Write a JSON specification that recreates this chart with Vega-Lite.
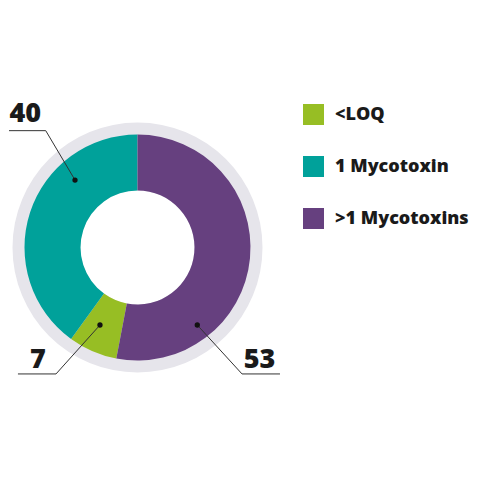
{
  "$schema": "https://vega.github.io/schema/vega-lite/v6.json",
  "width": 480,
  "height": 480,
  "autosize": {"type": "fit", "contains": "padding"},
  "padding": 0,
  "background": "white",
  "config": {"view": {"stroke": null}},
  "datasets": {
    "slices": [
      {"category": "<LOQ", "value": 7},
      {"category": "1 Mycotoxin", "value": 40},
      {"category": ">1 Mycotoxins", "value": 53}
    ],
    "ring": [{"part": "ring", "value": 100}],
    "leaders": [
      {"label": "40", "step": 1, "x": -113.7, "y": 103.4},
      {"label": "40", "step": 2, "x": -81.2, "y": 103.4},
      {"label": "40", "step": 3, "x": -55.3, "y": 59.7},
      {"label": "7", "step": 1, "x": -105.8, "y": -111.9},
      {"label": "7", "step": 2, "x": -72.1, "y": -111.9},
      {"label": "7", "step": 3, "x": -33.2, "y": -68.6},
      {"label": "53", "step": 1, "x": 126.1, "y": -111.9},
      {"label": "53", "step": 2, "x": 92.5, "y": -111.9},
      {"label": "53", "step": 3, "x": 52.9, "y": -68.6}
    ],
    "labels": [
      {"label": "40", "x": -99.3, "y": 110.8},
      {"label": "7", "x": -88.1, "y": -106.9},
      {"label": "53", "x": 108, "y": -106.4}
    ]
  },
  "encoding": {
    "x": {"type": "quantitative", "scale": {"domain": [-121.68, 303.1], "nice": false, "zero": false}, "axis": null},
    "y": {"type": "quantitative", "scale": {"domain": [-205.75, 219.03], "nice": false, "zero": false}, "axis": null}
  },
  "layer": [
    {
      "data": {"name": "ring"},
      "mark": {"type": "arc", "radius": 125, "radius2": 57, "color": "#E6E5EB"},
      "encoding": {
        "theta": {"field": "value", "type": "quantitative"},
        "x": {"datum": 0, "type": "quantitative"},
        "y": {"datum": 0, "type": "quantitative"}
      }
    },
    {
      "data": {"name": "slices"},
      "mark": {"type": "arc", "radius": 113, "radius2": 57},
      "encoding": {
        "theta": {"field": "value", "type": "quantitative", "stack": true},
        "order": {"field": "category", "sort": "descending"},
        "x": {"datum": 0, "type": "quantitative"},
        "y": {"datum": 0, "type": "quantitative"},
        "color": {
          "field": "category",
          "type": "nominal",
          "scale": {
            "domain": ["<LOQ", "1 Mycotoxin", ">1 Mycotoxins"],
            "range": ["#97BE24", "#00A19A", "#66407F"]
          },
          "legend": {
            "title": null,
            "orient": "none",
            "legendX": 303,
            "legendY": 104,
            "symbolType": "square",
            "symbolSize": 441,
            "symbolStrokeWidth": 0,
            "symbolOpacity": 1,
            "labelFont": "Open Sans",
            "labelFontWeight": 800,
            "labelFontSize": 18,
            "labelColor": "#1a1a1a",
            "labelOffset": 11,
            "rowPadding": 31,
            "padding": 0
          }
        }
      }
    },
    {
      "data": {"name": "leaders"},
      "mark": {"type": "line", "color": "#333333", "strokeWidth": 1},
      "encoding": {
        "x": {"field": "x", "type": "quantitative"},
        "y": {"field": "y", "type": "quantitative"},
        "detail": {"field": "label"},
        "order": {"field": "step", "type": "quantitative"}
      }
    },
    {
      "data": {"name": "leaders"},
      "transform": [{"filter": "datum.step == 3"}],
      "mark": {"type": "point", "filled": true, "color": "#111111", "size": 28, "opacity": 1},
      "encoding": {
        "x": {"field": "x", "type": "quantitative"},
        "y": {"field": "y", "type": "quantitative"}
      }
    },
    {
      "data": {"name": "labels"},
      "mark": {"type": "text", "font": "Open Sans", "fontWeight": 800, "fontSize": 27, "color": "#1a1a1a", "baseline": "alphabetic", "align": "center"},
      "encoding": {
        "x": {"field": "x", "type": "quantitative"},
        "y": {"field": "y", "type": "quantitative"},
        "text": {"field": "label"}
      }
    }
  ]
}
